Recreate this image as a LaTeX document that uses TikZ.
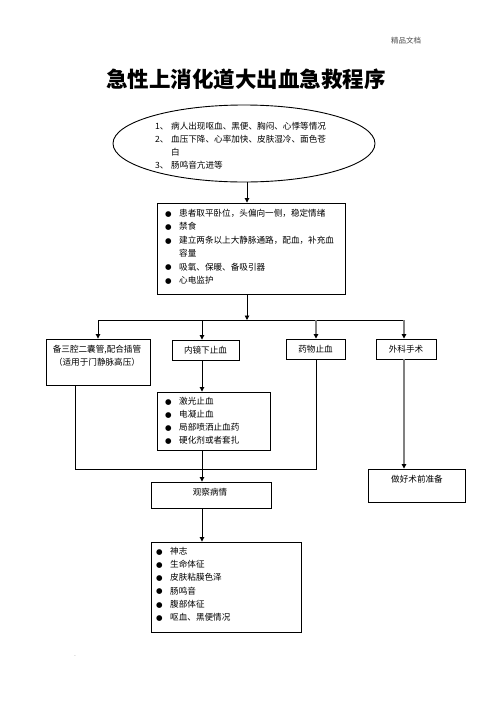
\documentclass[tikz,border=0pt]{standalone}
\usepackage{fontspec}
\setmainfont{Noto Sans CJK SC}
\newfontfamily\dejavu{DejaVu Sans}
\usetikzlibrary{arrows.meta,shapes.geometric}
\newcommand{\bul}{\makebox[14pt][l]{\raisebox{0.2pt}{\dejavu\fontsize{7.5}{7.5}\selectfont ●}}}
\definecolor{lgray}{HTML}{808080}
\tikzset{
  box/.style={draw, line width=0.9pt, rectangle, inner sep=0pt},
  txt/.style={inner sep=0pt, font=\fontsize{8.6}{13.2}\selectfont, align=left},
  ctxt/.style={inner sep=0pt, font=\fontsize{8.6}{13}\selectfont, align=center},
  ln/.style={line width=0.9pt},
  arr/.style={line width=0.9pt, -{Triangle[length=4.5pt,width=4.5pt,color=black]}},
  grayl/.style={line width=1.4pt, draw=lgray},
}
\begin{document}
\begin{tikzpicture}[x=1pt,y=-1pt]
\useasboundingbox[fill=white] (0,0) rectangle (496,702);
% header and title
\node[inner sep=0pt, text=black!70, font=\fontsize{7.5}{9}\selectfont] (hd) at (406,41) {精品文档};
\node[inner sep=0pt, font=\fontsize{21.5}{24}\selectfont\bfseries] (title) at (246,79) {急性上消化道大出血急救程序};
% ellipse
\node[draw, ellipse, line width=0.9pt, minimum width=262pt, minimum height=77pt, inner sep=0pt] (el) at (244,143.5) {};
\node[txt, anchor=north west, font=\fontsize{8.6}{13}\selectfont] (elt) at (155,122) {\makebox[16pt][l]{1、}病人出现呕血、黑便、胸闷、心悸等情况\\
\makebox[16pt][l]{2、}血压下降、心率加快、皮肤湿冷、面色苍\\
\hspace*{16pt}白\\
\makebox[16pt][l]{3、}肠鸣音亢进等};
% box 2
\node[box, minimum width=188pt, minimum height=91pt] (b2) at (251,248.5) {};
\node[txt, anchor=north west, font=\fontsize{8.6}{13.4}\selectfont] (b2t) at (165,209) {\bul 患者取平卧位，头偏向一侧，稳定情绪\\
\bul 禁食\\
\bul 建立两条以上大静脉通路，配血，补充血\\
\hspace*{14pt}容量\\
\bul 吸氧、保暖、备吸引器\\
\bul 心电监护};
% four boxes
\node[box, minimum width=104pt, minimum height=46pt] (bA) at (98,362) {};
\node[ctxt, anchor=north] (bAt) at (97,345) {备三腔二囊管,配合插管\\（适用于门静脉高压）};
\node[box, minimum width=67pt, minimum height=20pt, ctxt] (bB) at (205.5,350) {内镜下止血};
\node[box, minimum width=59pt, minimum height=20pt, ctxt] (bC) at (315.5,349) {药物止血};
\node[box, minimum width=60pt, minimum height=20pt, ctxt] (bD) at (406,349) {外科手术};
% box E
\node[box, minimum width=113pt, minimum height=58pt] (bE) at (213.5,421) {};
\node[txt, anchor=north west, font=\fontsize{8.6}{13}\selectfont] (bEt) at (165,397) {\bul 激光止血\\
\bul 电凝止血\\
\bul 局部喷洒止血药\\
\bul 硬化剂或者套扎};
% box F, G
\node[box, minimum width=120pt, minimum height=26pt] (bF) at (211,495) {};
\node[ctxt] (bFt) at (210,492) {观察病情};
\node[box, minimum width=97pt, minimum height=33pt] (bG) at (416.5,485.5) {};
\node[ctxt] (bGt) at (417,479) {做好术前准备};
% box H
\node[box, minimum width=150pt, minimum height=90pt] (bH) at (226,587) {};
\node[txt, anchor=north west, font=\fontsize{8.6}{13.2}\selectfont] (bHt) at (156,547) {\bul 神志\\
\bul 生命体征\\
\bul 皮肤粘膜色泽\\
\bul 肠鸣音\\
\bul 腹部体征\\
\bul 呕血、黑便情况};
\node[inner sep=0pt, text=black!40, font=\fontsize{5}{5}\selectfont] (mk) at (75,657) {-};
% coordinates
\coordinate (J) at (247,320);
\coordinate (pA) at (98,320);
\coordinate (pB) at (202,320);
\coordinate (pC) at (316,320);
\coordinate (pD) at (404,320);
\coordinate (qA) at (75,469);
\coordinate (qC) at (316,469);
% connectors
\draw[arr] (el.south -| J) -- (b2.north -| J);
\draw[arr] (b2.south -| J) -- (J);
\draw[ln] (pA) -- (pD);
\draw[arr] (pA) -- (bA.north -| pA);
\draw[arr] (pB) -- (bB.north -| pB);
\draw[arr, grayl] (pC) -- (bC.north -| pC);
\draw[arr, grayl] (pD) -- (bD.north -| pD);
\draw[arr] (bB.south -| pB) -- (bE.north -| pB);
\draw[arr] (bE.south -| pB) -- (bF.north -| pB);
\draw[arr] (bF.south -| pB) -- (bH.north -| pB);
\draw[ln] (bA.south -| qA) -- (qA) -- (qC) -- (bC.south -| qC);
\draw[arr, grayl] (bD.south -| pD) -- (bG.north -| pD);
\end{tikzpicture}
\end{document}
